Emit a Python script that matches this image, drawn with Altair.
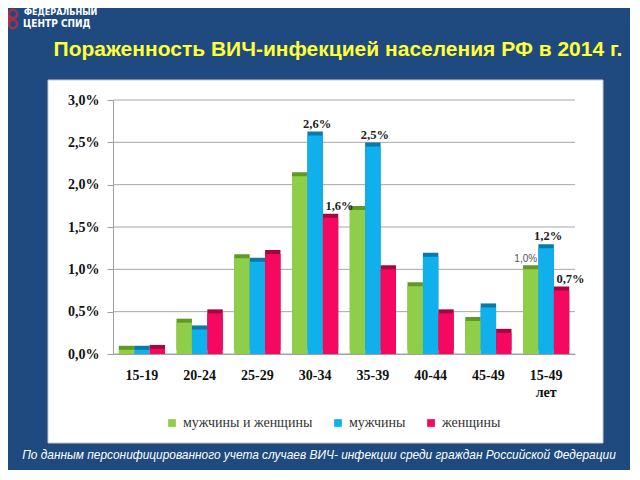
import altair as alt
import pandas as pd

ages = ["15-19", "20-24", "25-29", "30-34", "35-39", "40-44", "45-49", "15-49"]
groups = ["мужчины и женщины", "мужчины", "женщины"]
colors = ["#8fce48", "#0fb0ec", "#f5085f"]
dark_colors = ["#5f9a25", "#0a78a8", "#a8043e"]

both = [0.05, 0.37, 1.13, 2.10, 1.70, 0.80, 0.39, 1.00]
men = [0.05, 0.29, 1.09, 2.58, 2.45, 1.15, 0.55, 1.25]
women = [0.06, 0.48, 1.18, 1.61, 1.00, 0.48, 0.25, 0.75]

label_age = ["30-34", "35-39", "15-49", "30-34", "15-49", "15-49"]
label_group = ["мужчины", "мужчины", "мужчины", "женщины", "женщины", "мужчины и женщины"]
label_text = ["2,6%", "2,5%", "1,2%", "1,6%", "0,7%", "1,0%"]
label_kind = ["main", "main", "main", "side", "side", "light"]

title_text = "Пораженность ВИЧ-инфекцией населения РФ в 2014 г."
footer_text = "По данным персонифицированного учета случаев ВИЧ- инфекции среди граждан Российской Федерации"
y_ticks = [0, 0.5, 1.0, 1.5, 2.0, 2.5, 3.0]

rows = []
for gi, (g, series) in enumerate(zip(groups, [both, men, women])):
    for a, v in zip(ages, series):
        rows.append({"age": a, "group": g, "value": v, "dark": dark_colors[gi]})
df = pd.DataFrame(rows)

lab = pd.DataFrame({"age": label_age, "group": label_group, "text": label_text, "kind": label_kind})
lab = lab.merge(df[["age", "group", "value"]], on=["age", "group"])
grid_df = pd.DataFrame({"value": y_ticks})

W, H = 462, 254
SERIF = "Liberation Serif, Times New Roman, serif"

x_enc = alt.X(
    "age:N", sort=ages,
    scale=alt.Scale(domain=ages, paddingInner=0.2, paddingOuter=0.1),
    axis=alt.Axis(
        title=None, labelAngle=0, ticks=False, labelPadding=14, zindex=1,
        labelFont=SERIF, labelFontWeight="bold", labelFontSize=14,
        labelColor="#111111", domainColor="#a0a0a0", labelLineHeight=17,
        labelExpr="datum.value == '15-49' ? ['15-49', 'лет'] : datum.value",
    ),
)
xo_enc = alt.XOffset("group:N", sort=groups, scale=alt.Scale(domain=groups))
y_enc = alt.Y(
    "value:Q", scale=alt.Scale(domain=[0, 3]),
    axis=alt.Axis(
        title=None, values=y_ticks, grid=False, zindex=1,
        domainColor="#a0a0a0", tickColor="#a0a0a0", tickSize=6, labelPadding=8,
        labelFont=SERIF, labelFontWeight="bold", labelFontSize=14,
        labelColor="#111111",
        labelExpr="replace(format(datum.value, '.1f'), '.', ',') + '%'",
    ),
)

one = pd.DataFrame({"k": [0]})

panel = alt.Chart(one).mark_rect(color="white", stroke="#c8c8c8").encode(
    x=alt.value(-65), x2=alt.value(490), y=alt.value(-20), y2=alt.value(343)
)
grid = alt.Chart(grid_df).mark_rule(color="#a6a6a6", strokeWidth=1).encode(
    y=alt.Y("value:Q"), x=alt.value(0), x2=alt.value(W)
)
title = alt.Chart(one).mark_text(
    text=title_text, font="Liberation Sans", fontWeight="bold", fontSize=21,
    color="#ffff3a", align="center", baseline="middle"
).encode(x=alt.value(225), y=alt.value(-50))
footer = alt.Chart(one).mark_text(
    text=footer_text, font="Liberation Sans", fontStyle="italic", fontSize=11.9,
    color="white", align="center", baseline="middle"
).encode(x=alt.value(206), y=alt.value(355))
logo1 = alt.Chart(one).mark_text(
    text="ФЕДЕРАЛЬНЫЙ", font="DejaVu Sans Condensed", fontWeight="bold", fontSize=9,
    color="white", align="left", baseline="middle"
).encode(x=alt.value(-89), y=alt.value(-88))
logo2 = alt.Chart(one).mark_text(
    text="ЦЕНТР СПИД", font="DejaVu Sans Condensed", fontWeight="bold", fontSize=10,
    color="white", align="left", baseline="middle"
).encode(x=alt.value(-90), y=alt.value(-76))
ring_a = alt.Chart(one).mark_point(shape="circle", filled=False, color="#d8283a", strokeWidth=2.5, size=70).encode(
    x=alt.value(-100), y=alt.value(-86))
ring_b = alt.Chart(one).mark_point(shape="circle", filled=False, color="#d8283a", strokeWidth=2.5, size=70).encode(
    x=alt.value(-100), y=alt.value(-76))
ring_c = alt.Chart(one).mark_point(shape="circle", filled=False, color="#d8283a", strokeWidth=2.5, size=70).encode(
    x=alt.value(-108), y=alt.value(-81))

shadow = alt.Chart(df).mark_bar(yOffset=-4).encode(
    x=x_enc, xOffset=xo_enc, y=y_enc,
    color=alt.Color("dark:N", scale=None),
)
bars = alt.Chart(df).mark_bar().encode(
    x=x_enc, xOffset=xo_enc, y=y_enc,
    color=alt.Color(
        "group:N", sort=groups,
        scale=alt.Scale(domain=groups, range=colors),
        legend=alt.Legend(
            title=None, orient="none", legendX=52, legendY=316, direction="horizontal",
            symbolType="square", symbolSize=60, labelFont=SERIF,
            labelFontSize=14, labelColor="#333333", columnPadding=18,
        ),
    ),
)
lab_main = alt.Chart(lab).transform_filter("datum.kind == 'main'").mark_text(
    font=SERIF, fontWeight="bold", fontSize=12.5, color="#222222", dy=-12, dx=2
).encode(x=x_enc, xOffset=xo_enc, y=y_enc, text="text:N")
lab_side = alt.Chart(lab).transform_filter("datum.kind == 'side'").mark_text(
    font=SERIF, fontWeight="bold", fontSize=12.5, color="#222222", dy=-12, dx=9
).encode(x=x_enc, xOffset=xo_enc, y=y_enc, text="text:N")
lab_light = alt.Chart(lab).transform_filter("datum.kind == 'light'").mark_text(
    font="Liberation Sans", fontSize=10, color="#555555", dy=-10, dx=-5
).encode(x=x_enc, xOffset=xo_enc, y=y_enc, text="text:N")

chart = alt.layer(
    panel, grid, title, footer, logo1, logo2, ring_a, ring_b, ring_c,
    shadow, bars, lab_main, lab_side, lab_light
).properties(
    width=W, height=H,
    autosize=alt.AutoSizeParams(type="none"),
    padding={"left": 105, "top": 92, "right": 55, "bottom": 116},
    background="#1f4a80",
).configure_view(stroke=None)

chart.save("out.html", embed_options={"renderer": "svg", "actions": False})
